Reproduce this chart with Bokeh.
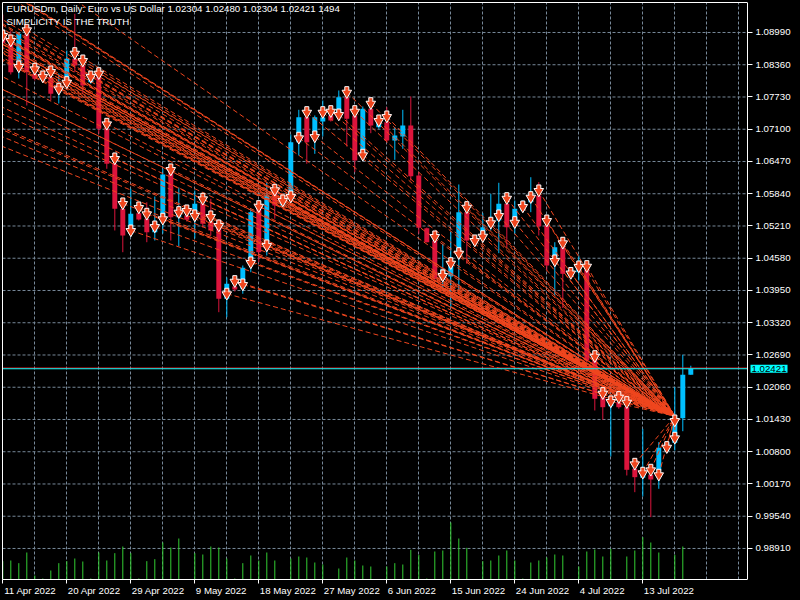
from bokeh.plotting import figure
from bokeh.models import Range1d, ColumnDataSource, FixedTicker, Label, LinearAxis, Grid, NumeralTickFormatter
from bokeh.embed import file_html
from bokeh.resources import INLINE

# ---------------- data ----------------
dates = [
    "2022-04-11", "2022-04-12", "2022-04-13", "2022-04-14", "2022-04-15", "2022-04-17",
    "2022-04-18", "2022-04-19", "2022-04-20", "2022-04-21", "2022-04-22", "2022-04-24",
    "2022-04-25", "2022-04-26", "2022-04-27", "2022-04-28", "2022-04-29", "2022-05-01",
    "2022-05-02", "2022-05-03", "2022-05-04", "2022-05-05", "2022-05-06", "2022-05-08",
    "2022-05-09", "2022-05-10", "2022-05-11", "2022-05-12", "2022-05-13", "2022-05-15",
    "2022-05-16", "2022-05-17", "2022-05-18", "2022-05-19", "2022-05-20", "2022-05-22",
    "2022-05-23", "2022-05-24", "2022-05-25", "2022-05-26", "2022-05-27", "2022-05-29",
    "2022-05-30", "2022-05-31", "2022-06-01", "2022-06-02", "2022-06-03", "2022-06-05",
    "2022-06-06", "2022-06-07", "2022-06-08", "2022-06-09", "2022-06-10", "2022-06-12",
    "2022-06-13", "2022-06-14", "2022-06-15", "2022-06-16", "2022-06-17", "2022-06-19",
    "2022-06-20", "2022-06-21", "2022-06-22", "2022-06-23", "2022-06-24", "2022-06-26",
    "2022-06-27", "2022-06-28", "2022-06-29", "2022-06-30", "2022-07-01", "2022-07-03",
    "2022-07-04", "2022-07-05", "2022-07-06", "2022-07-07", "2022-07-08", "2022-07-10",
    "2022-07-11", "2022-07-12", "2022-07-13", "2022-07-14", "2022-07-15", "2022-07-17",
    "2022-07-18", "2022-07-19", "2022-07-20",
]

opens = [
    1.08900, 1.08769, 1.08379, 1.08965, 1.08183, 1.08066, 1.08117, 1.07837, 1.07955, 1.08476,
    1.08345, 1.08019, 1.08150, 1.07109, 1.06425, 1.05546, 1.05058, 1.05460, 1.05351, 1.05089,
    1.05284, 1.06294, 1.05382, 1.05415, 1.05351, 1.05644, 1.05284, 1.05253, 1.03788, 1.04028,
    1.03983, 1.04569, 1.05610, 1.04829, 1.05870, 1.05610, 1.05773, 1.06847, 1.07335, 1.06978,
    1.07251, 1.07369, 1.07335, 1.07726, 1.07369, 1.06554, 1.07499, 1.07140, 1.07238, 1.06880,
    1.06958, 1.07173, 1.06197, 1.05167, 1.04926, 1.04178, 1.04224, 1.04667, 1.05480, 1.04985,
    1.05058, 1.05206, 1.05317, 1.05644, 1.05284, 1.05513, 1.05675, 1.05806, 1.05220, 1.04601,
    1.04796, 1.04243, 1.04307, 1.04354, 1.02680, 1.01866, 1.01690, 1.01768, 1.01670, 1.00467,
    1.00291, 1.00350, 1.00434, 1.00811, 1.00975, 1.01455, 1.02304,
]
highs = [
    1.09340, 1.09029, 1.08980, 1.09088, 1.08248, 1.08130, 1.08170, 1.08189, 1.08638, 1.09355,
    1.08443, 1.08130, 1.08248, 1.07193, 1.06490, 1.05610, 1.05937, 1.05493, 1.05675, 1.05786,
    1.06327, 1.06392, 1.05962, 1.05454, 1.05903, 1.05747, 1.05741, 1.05278, 1.04204, 1.04070,
    1.04438, 1.05546, 1.05650, 1.06066, 1.05982, 1.05770, 1.06997, 1.07480, 1.07427, 1.07369,
    1.07662, 1.07410, 1.07857, 1.07800, 1.07430, 1.07544, 1.07584, 1.07250, 1.07531, 1.07140,
    1.07480, 1.07740, 1.06260, 1.05180, 1.05005, 1.04862, 1.05089, 1.06021, 1.05570, 1.05005,
    1.05460, 1.05839, 1.06054, 1.05730, 1.05708, 1.05710, 1.06163, 1.06066, 1.05280, 1.04893,
    1.04850, 1.04400, 1.04634, 1.04460, 1.02740, 1.01940, 1.01840, 1.01800, 1.01720, 1.00570,
    1.01248, 1.00450, 1.00987, 1.01000, 1.02061, 1.02694, 1.02480,
]
lows = [
    1.08640, 1.08170, 1.08091, 1.07564, 1.08052, 1.08052, 1.07662, 1.07603, 1.07896, 1.08214,
    1.07798, 1.07990, 1.07011, 1.06327, 1.05122, 1.04698, 1.05005, 1.05317, 1.04893, 1.04926,
    1.05063, 1.04926, 1.04815, 1.05298, 1.04966, 1.05181, 1.05024, 1.03526, 1.03428, 1.03930,
    1.03886, 1.04307, 1.04503, 1.04634, 1.05351, 1.05590, 1.05728, 1.06587, 1.06425, 1.06620,
    1.06958, 1.07250, 1.07310, 1.06763, 1.06261, 1.06490, 1.07023, 1.07110, 1.06841, 1.06503,
    1.06718, 1.06099, 1.05058, 1.04890, 1.04112, 1.03950, 1.03624, 1.03950, 1.04472, 1.04870,
    1.04926, 1.05122, 1.04679, 1.04796, 1.05058, 1.05490, 1.05480, 1.05024, 1.04341, 1.03852,
    1.03608, 1.04220, 1.04145, 1.02543, 1.01606, 1.01424, 1.00707, 1.01640, 1.00336, 1.00010,
    0.99926, 0.99522, 1.00076, 1.00790, 1.00824, 1.01201, 1.02304,
]
closes = [
    1.08780, 1.08214, 1.08965, 1.08214, 1.08086, 1.08105, 1.07793, 1.07935, 1.08476, 1.08345,
    1.07955, 1.08117, 1.07109, 1.06425, 1.05546, 1.05024, 1.05448, 1.05337, 1.05089, 1.05284,
    1.06216, 1.05382, 1.05513, 1.05331, 1.05644, 1.05253, 1.05122, 1.03788, 1.04081, 1.03970,
    1.04393, 1.05480, 1.04698, 1.05806, 1.05610, 1.05741, 1.06847, 1.07335, 1.06847, 1.07335,
    1.07330, 1.07271, 1.07726, 1.07304, 1.06490, 1.07499, 1.07173, 1.07238, 1.06880, 1.06978,
    1.07173, 1.06180, 1.05175, 1.04894, 1.04178, 1.04374, 1.04497, 1.05480, 1.04926, 1.04888,
    1.05187, 1.05317, 1.05644, 1.05187, 1.05546, 1.05675, 1.05839, 1.05206, 1.04438, 1.04796,
    1.04276, 1.04374, 1.04438, 1.02582, 1.01834, 1.01670, 1.01801, 1.01670, 1.00447, 1.00303,
    1.00447, 1.00258, 1.00877, 1.00975, 1.01377, 1.02304, 1.02421,
]
tick_volume = [
    55000, 57000, 49000, 81000, 12000, 3000, 27000, 49000, 55000, 63000,
    54000, 3000, 81000, 57000, 79000, 99000, 79000, 3000, 55000, 61000,
    111000, 96000, 123000, 1500, 79000, 75000, 99000, 96000, 63000, 3000,
    49000, 72000, 57000, 81000, 57000, 1500, 63000, 69000, 66000, 51000,
    45000, 1500, 33000, 66000, 57000, 42000, 39000, 1500, 39000, 49000,
    45000, 89000, 74000, 3000, 84000, 87000, 171000, 123000, 95000, 1500,
    55000, 57000, 72000, 87000, 57000, 3000, 51000, 57000, 66000, 75000,
    72000, 1500, 39000, 84000, 90000, 69000, 92000, 1500, 69000, 87000,
    127000, 111000, 81000, 1500, 74000, 99000, 1494,
]
# price of the sell-arrow drawn on each bar (None = no arrow)
signal_price = [
    1.08931, 1.08834, 1.08326, 1.09043, 1.08281, 1.08130, 1.08228, 1.07890, 1.08019, 1.08586,
    1.08443, 1.08130, 1.08195, 1.07206, 1.06529, 1.05650, 1.05122, 1.05571, 1.05448, 1.05200,
    1.05351, 1.06314, 1.05480, 1.05513, 1.05415, 1.05741, 1.05396, 1.05220, 1.03886, 1.04132,
    1.04067, 1.04497, 1.05597, 1.04829, 1.05917, 1.05708, 1.05786, 1.06933, 1.07433, 1.06958,
    1.07433, 1.07453, 1.07388, 1.07824, 1.07453, 1.06601, 1.07609, 1.07271, 1.07349, None,
    None, None, None, None, 1.05005, 1.04243, 1.04483, 1.04679, 1.05577, 1.04927,
    1.05011, 1.05273, 1.05415, 1.05753, 1.05284, 1.05591, 1.05773, 1.05904, 1.05317, 1.04536,
    1.04882, 1.04292, 1.04419, 1.04425, 1.02666, 1.01944, 1.01782, 1.01866, 1.01768, 1.00564,
    1.00389, 1.00447, 1.00350, 1.00889, 1.01072, None, None,
]
# arrows of the bars before the first visible bar (oldest first); only their lines show
prior_signal_price = [
    1.12300, 1.12150, 1.11250, 1.11200, 1.10650, 1.09150, 1.08900, 1.08580, 1.09000, 1.10750,
    1.09850, 1.09150, 1.09250, 1.09420, 1.09550, 1.10350, 1.10950, 1.10450, 1.10500, 1.10150,
    1.10300, 1.10050, 1.09970, 1.09750, 1.09800, 1.09850, 1.10880, 1.11580, 1.10650, 1.10450,
    1.10470, 1.09700, 1.09040, 1.09020, 1.08770, 1.09250,
]
target_date = "2022-07-18"
target_price = 1.01494
target_arrow_price = 1.01410

bid_price = 1.02421
ask_price = 1.02434

tick_dates = ["2022-04-11", "2022-04-20", "2022-04-29", "2022-05-09", "2022-05-18", "2022-05-27",
              "2022-06-06", "2022-06-15", "2022-06-24", "2022-07-04", "2022-07-13"]
tick_labels = ["11 Apr 2022", "20 Apr 2022", "29 Apr 2022", "9 May 2022", "18 May 2022",
               "27 May 2022", "6 Jun 2022", "15 Jun 2022", "24 Jun 2022", "4 Jul 2022", "13 Jul 2022"]
price_ticks = [0.98910, 0.99540, 1.00170, 1.00800, 1.01430, 1.02060, 1.02690, 1.03320, 1.03950,
               1.04580, 1.05210, 1.05840, 1.06470, 1.07100, 1.07730, 1.08360, 1.08990]

symbol = "EURUSDm"
timeframe = "Daily"
description = "Euro vs US Dollar"
subtitle = "SIMPLICITY IS THE TRUTH"

# ---------------- styling / layout ----------------
BG = "black"
FG = "white"
GRID = "#778899"
BULL = "#00BFFF"
BEAR = "#DC143C"
FAN = "#F0461E"
VOL = "#32CD32"
BIDC = "#00FFFF"
ASKC = "#FF2020"
FONT = "Liberation Sans"
FSPX = 9.7
FS = "%gpx" % FSPX

W, H = 800, 600
BORDER_L, BORDER_T, BORDER_R, BORDER_B = 2, 2, 0, 21
FRAME_W = W - BORDER_L - BORDER_R
FRAME_H = H - BORDER_T - BORDER_B
BAR_PX = 8.0
X_START = -0.0375
X_END = X_START + FRAME_W / BAR_PX
X_RIGHT = X_START + 745 / BAR_PX           # right edge of the price chart (price scale line)
P_TOP, P_BOTTOM = 1.09576, 0.98304
PX = (P_TOP - P_BOTTOM) / FRAME_H          # price per screen pixel
VOL_END = 3000 * FRAME_H                   # volume scale (3000 ticks / px)

# Arial/Liberation Sans advance widths (em) used to left-align the date labels at their ticks
CHAR_W = {" ": 0.278, "A": 0.667, "p": 0.556, "r": 0.333, "M": 0.833, "a": 0.556, "y": 0.5,
          "J": 0.5, "u": 0.556, "n": 0.556, "l": 0.222}

def text_px(s):
    return sum(CHAR_W.get(ch, 0.556) for ch in s) * FSPX

n = len(dates)
xs = list(range(n))
idx_of = {d: i for i, d in enumerate(dates)}

p = figure(width=W, height=H, output_backend="svg", toolbar_location=None,
           x_range=Range1d(X_START, X_END), y_range=Range1d(P_BOTTOM, P_TOP),
           x_axis_location=None, y_axis_location=None,
           background_fill_color=BG, border_fill_color=BG,
           min_border_left=BORDER_L, min_border_top=BORDER_T,
           min_border_right=BORDER_R, min_border_bottom=BORDER_B)
p.outline_line_color = None
# drop the default grids that come with the (unplaced) default axes
p.center = [r for r in p.center if not isinstance(r, Grid)]

# ---- axes ----
tick_pos = [idx_of[d] for d in tick_dates]
label_pos = []
for t, lab in zip(tick_pos, tick_labels):
    c = round(t + (text_px(lab) / 2 + 1.0) / BAR_PX, 3)
    if c == int(c):
        c += 0.001
    label_pos.append(c)
xaxis = LinearAxis(ticker=FixedTicker(ticks=label_pos, minor_ticks=tick_pos),
                   major_label_overrides={c: lab for c, lab in zip(label_pos, tick_labels)},
                   bounds=(X_START, X_RIGHT),
                   axis_line_color=FG, major_tick_line_color=None, minor_tick_line_color=FG,
                   major_tick_in=0, major_tick_out=4, minor_tick_in=0, minor_tick_out=4,
                   major_label_standoff=1, major_label_text_color=FG,
                   major_label_text_font=FONT, major_label_text_font_size=FS)
p.add_layout(xaxis, "below")

yaxis = LinearAxis(fixed_location=X_RIGHT, ticker=FixedTicker(ticks=price_ticks),
                   formatter=NumeralTickFormatter(format="0.00000"),
                   axis_line_color=FG, major_tick_line_color=FG, minor_tick_line_color=None,
                   major_tick_in=0, major_tick_out=5, major_label_standoff=3,
                   major_label_text_color=FG, major_label_text_font=FONT,
                   major_label_text_font_size=FS)
p.add_layout(yaxis, "right")

left_edge = LinearAxis(ticker=FixedTicker(ticks=[]), axis_line_color=FG,
                       major_tick_line_color=None, minor_tick_line_color=None,
                       major_tick_out=0, minor_tick_out=0)
p.add_layout(left_edge, "left")
top_edge = LinearAxis(ticker=FixedTicker(ticks=[]), bounds=(X_START, X_RIGHT), axis_line_color=FG,
                      major_tick_line_color=None, minor_tick_line_color=None,
                      major_tick_out=0, minor_tick_out=0)
p.add_layout(top_edge, "above")

# ---- grid ----
p.add_layout(Grid(dimension=0, ticker=FixedTicker(ticks=list(range(0, int(X_RIGHT), 4))),
                  grid_line_color=GRID, grid_line_dash="3 2", grid_line_width=1))
p.segment(x0=[X_START] * len(price_ticks), y0=price_ticks,
          x1=[X_RIGHT] * len(price_ticks), y1=price_ticks,
          line_color=GRID, line_width=1, line_dash="3 2")

# ---- volumes ----
p.extra_y_ranges = {"vol": Range1d(0, VOL_END)}
p.segment(x0=xs, y0=[0] * n, x1=xs, y1=tick_volume, y_range_name="vol",
          line_color=VOL, line_width=1)

# ---- candles ----
colors = [BULL if c >= o else BEAR for o, c in zip(opens, closes)]
tops, bottoms = [], []
for o, c in zip(opens, closes):
    t, b = max(o, c), min(o, c)
    if t - b < PX:
        m = (t + b) / 2
        t, b = m + PX / 2, m - PX / 2
    tops.append(t)
    bottoms.append(b)
csrc = ColumnDataSource(dict(x=xs, high=highs, low=lows, top=tops, bottom=bottoms, color=colors))
p.segment(x0="x", y0="high", x1="x", y1="low", line_color="color", line_width=1, source=csrc)
p.vbar(x="x", width=0.62, top="top", bottom="bottom", fill_color="color", line_color=None, source=csrc)

# ---- fan of dashed lines from every arrow to the target point ----
tx = idx_of[target_date]
fx0, fy0 = [], []
npr = len(prior_signal_price)
for k, sp in enumerate(prior_signal_price):
    fx0.append(k - npr)
    fy0.append(sp)
for i, sp in enumerate(signal_price):
    if sp is not None:
        fx0.append(i)
        fy0.append(sp)
p.segment(x0=fx0, y0=fy0, x1=[tx] * len(fx0), y1=[target_price] * len(fx0),
          line_color=FAN, line_width=1, line_dash="5 3")

# ---- bid / ask lines ----
p.segment(x0=[X_START], y0=[ask_price], x1=[X_RIGHT], y1=[ask_price], line_color=ASKC, line_width=1)
p.segment(x0=[X_START], y0=[bid_price], x1=[X_RIGHT], y1=[bid_price], line_color=BIDC, line_width=1)

# ---- arrows (stem + head, white outline) ----
ax_, ay_ = [], []
for i, sp in enumerate(signal_price):
    if sp is not None:
        ax_.append(i)
        ay_.append(sp)
ax_.append(tx)
ay_.append(target_arrow_price)
stem_y = [y + 3.5 * PX for y in ay_]
head_y = [y - 0.8 * PX for y in ay_]
join_y = [y + 1.6 * PX for y in ay_]
p.rect(x=ax_, y=stem_y, width=4, height=4, width_units="screen", height_units="screen",
       fill_color=FAN, line_color=FG, line_width=1)
p.scatter(x=ax_, y=head_y, marker="inverted_triangle", size=9.5,
          fill_color=FAN, line_color=FG, line_width=1)
p.rect(x=ax_, y=join_y, width=3, height=2, width_units="screen", height_units="screen",
       fill_color=FAN, line_color=None)

# ---- header texts ----
last = n - 1
header = "%s, %s:  %s  %.5f %.5f %.5f %.5f  %d" % (
    symbol, timeframe, description, opens[last], highs[last], lows[last], closes[last], tick_volume[last])
p.add_layout(Label(x=X_START, y=P_TOP, x_offset=4, y_offset=-6, text=header,
                   text_color=FG, text_font=FONT, text_font_size=FS,
                   text_align="left", text_baseline="middle"))
p.add_layout(Label(x=X_START, y=P_TOP, x_offset=4, y_offset=-19, text=subtitle,
                   text_color=FG, text_font=FONT, text_font_size=FS,
                   text_align="left", text_baseline="middle"))

# ---- current price tag on the price scale ----
p.add_layout(Label(x=X_RIGHT, y=bid_price, x_offset=3, text="%.5f" % bid_price,
                   text_color="black", text_font=FONT, text_font_size=FS,
                   text_align="left", text_baseline="middle",
                   background_fill_color=BIDC, padding=1))

open("out.html", "w").write(file_html(p, INLINE).replace(
    "</head>", "<style>html,body{background:#000;}</style></head>"))
